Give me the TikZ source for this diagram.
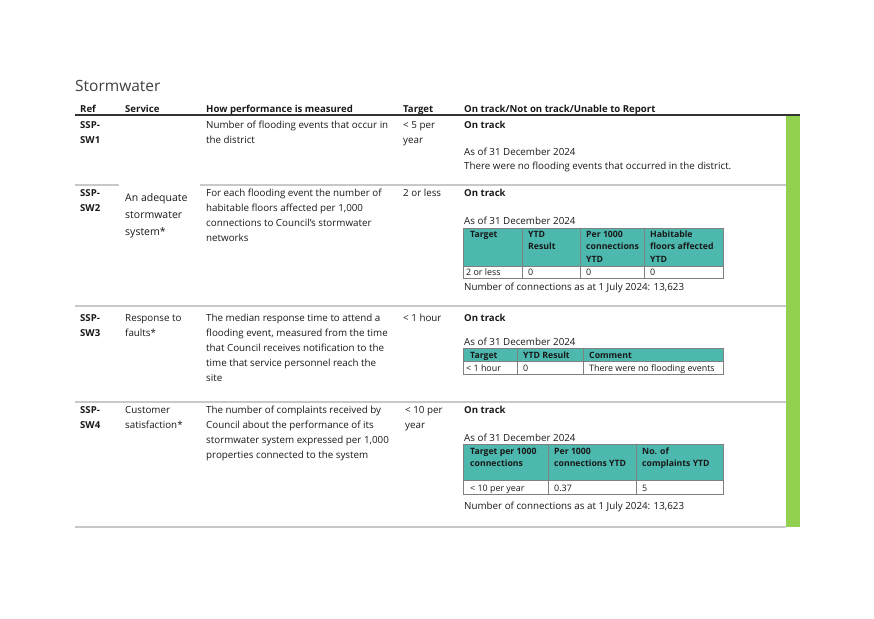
\documentclass[tikz,border=0pt]{standalone}
\usepackage{fontspec}
\setmainfont{Open Sans}
\definecolor{ink}{RGB}{25,25,25}
\definecolor{titlegray}{RGB}{64,64,64}
\definecolor{tealhead}{RGB}{76,184,174}
\definecolor{bargreen}{RGB}{146,208,80}
\definecolor{rulegray}{RGB}{200,200,200}
\definecolor{cellgray}{RGB}{128,128,128}
\tikzset{
  body/.style={anchor=base west, inner sep=0, align=left, text=ink, font=\fontsize{9.8}{15}\selectfont},
  bodyb/.style={body, font=\fontsize{9.6}{15}\selectfont\bfseries},
  svc/.style={body, font=\fontsize{10.5}{17}\selectfont},
  cell/.style={anchor=base west, inner sep=0, align=left, text=ink, font=\fontsize{8.9}{12.3}\selectfont},
  cellb/.style={cell, font=\fontsize{8.7}{12.3}\selectfont\bfseries},
  rowrule/.style={draw=rulegray, line width=1.1pt},
  headrule/.style={draw=black!80, line width=1.4pt},
  cellline/.style={draw=cellgray, line width=0.7pt}
}
\begin{document}
\begin{tikzpicture}[x=1pt, y=-1pt]
\useasboundingbox (0,0) rectangle (874,618);
\node [anchor=base west, inner sep=0, text=titlegray, font=\fontsize{15.5}{18}\selectfont] (title) at (75,91) {Stormwater};
% header row
\node [bodyb] (hRef) at (80,112) {Ref};
\node [bodyb] (hService) at (125,112) {Service};
\node [bodyb] (hHow) at (206,112) {How performance is measured};
\node [bodyb] (hTarget) at (403,112) {Target};
\node [bodyb] (hTrack) at (464,112) {On track/Not on track/Unable to Report};
% rules and green bar
\fill [bargreen] (786,115) rectangle (800,527);
\draw [headrule] (75,115) -- (800,115);
\draw [rowrule] (75,185) -- (119,185);
\draw [rowrule] (200,185) -- (786,185);
\draw [rowrule] (75,306) -- (786,306);
\draw [rowrule] (75,402) -- (786,402);
\draw [rowrule] (75,527) -- (786,527);
% SSP-SW1 (multi-line nodes sit on their last baseline)
\node [bodyb] (refA) at (80,143.5) {SSP-\\SW1};
\node [body] (howA) at (206,143.5) {Number of flooding events that occur in\\the district};
\node [body] (tgtA) at (403,143.5) {< 5 per\\year};
\node [bodyb] (trkA) at (464,128.5) {On track};
\node [body] (asofA) at (464,155.5) {As of 31 December 2024};
\node [body] (noteA) at (464,169.5) {There were no flooding events that occurred in the district.};
% SSP-SW2
\node [bodyb] (refB) at (80,211.5) {SSP-\\SW2};
\node [svc] (svcB) at (125,235) {An adequate\\stormwater\\system*};
\node [body] (howB) at (206,241.5) {For each flooding event the number of\\habitable floors affected per 1,000\\connections to Council's stormwater\\networks};
\node [body] (tgtB) at (403,196.5) {2 or less};
\node [bodyb] (trkB) at (464,196.5) {On track};
\node [body] (asofB) at (464,224.5) {As of 31 December 2024};
\draw [cellline, fill=tealhead] (463,228) rectangle (723,266);
\draw [cellline] (463,266) rectangle (723,278.5);
\draw [cellline] (522,228) -- (522,278.5);
\draw [cellline] (580,228) -- (580,278.5);
\draw [cellline] (644,228) -- (644,278.5);
\node [cellb] (bH1) at (470,237.5) {Target};
\node [cellb] (bH2) at (528,249.8) {YTD\\Result};
\node [cellb] (bH3) at (586,262.1) {Per 1000\\connections\\YTD};
\node [cellb] (bH4) at (650,262.1) {Habitable\\floors affected\\YTD};
\node [cell] (bD1) at (466,275.5) {2 or less};
\node [cell] (bD2) at (528,275.5) {0};
\node [cell] (bD3) at (586,275.5) {0};
\node [cell] (bD4) at (650,275.5) {0};
\node [body] (connB) at (464,290) {Number of connections as at 1 July 2024: 13,623};
% SSP-SW3
\node [bodyb] (refC) at (80,336.5) {SSP-\\SW3};
\node [body] (svcC) at (125,336.5) {Response to\\faults*};
\node [body] (howC) at (206,381.5) {The median response time to attend a\\flooding event, measured from the time\\that Council receives notification to the\\time that service personnel reach the\\site};
\node [body] (tgtC) at (403,321.5) {< 1 hour};
\node [bodyb] (trkC) at (464,321.5) {On track};
\node [body] (asofC) at (464,345) {As of 31 December 2024};
\draw [cellline, fill=tealhead] (463,348) rectangle (723,361);
\draw [cellline] (463,361) rectangle (723,374);
\draw [cellline] (517.5,348) -- (517.5,374);
\draw [cellline] (583,348) -- (583,374);
\node [cellb] (cH1) at (470,358) {Target};
\node [cellb] (cH2) at (523,358) {YTD Result};
\node [cellb] (cH3) at (589,358) {Comment};
\node [cell] (cD1) at (466,371.5) {< 1 hour};
\node [cell] (cD2) at (523,371.5) {0};
\node [cell] (cD3) at (589,371.5) {There were no flooding events};
% SSP-SW4
\node [bodyb] (refD) at (80,428.5) {SSP-\\SW4};
\node [body] (svcD) at (125,428.5) {Customer\\satisfaction*};
\node [body] (howD) at (206,458.5) {The number of complaints received by\\Council about the performance of its\\stormwater system expressed per 1,000\\properties connected to the system};
\node [body] (tgtD) at (405,428.5) {< 10 per\\year};
\node [bodyb] (trkD) at (464,413.5) {On track};
\node [body] (asofD) at (464,441) {As of 31 December 2024};
\draw [cellline, fill=tealhead] (463,444) rectangle (723,480.5);
\draw [cellline] (463,480.5) rectangle (723,494.5);
\draw [cellline] (548,444) -- (548,494.5);
\draw [cellline] (636,444) -- (636,494.5);
\node [cellb] (dH1) at (470,466.3) {Target per 1000\\connections};
\node [cellb] (dH2) at (554,466.3) {Per 1000\\connections YTD};
\node [cellb] (dH3) at (642,466.3) {No. of\\complaints YTD};
\node [cell] (dD1) at (470,491.5) {< 10 per year};
\node [cell] (dD2) at (554,491.5) {0.37};
\node [cell] (dD3) at (642,491.5) {5};
\node [body] (connD) at (464,509.5) {Number of connections as at 1 July 2024: 13,623};
\end{tikzpicture}
\end{document}
